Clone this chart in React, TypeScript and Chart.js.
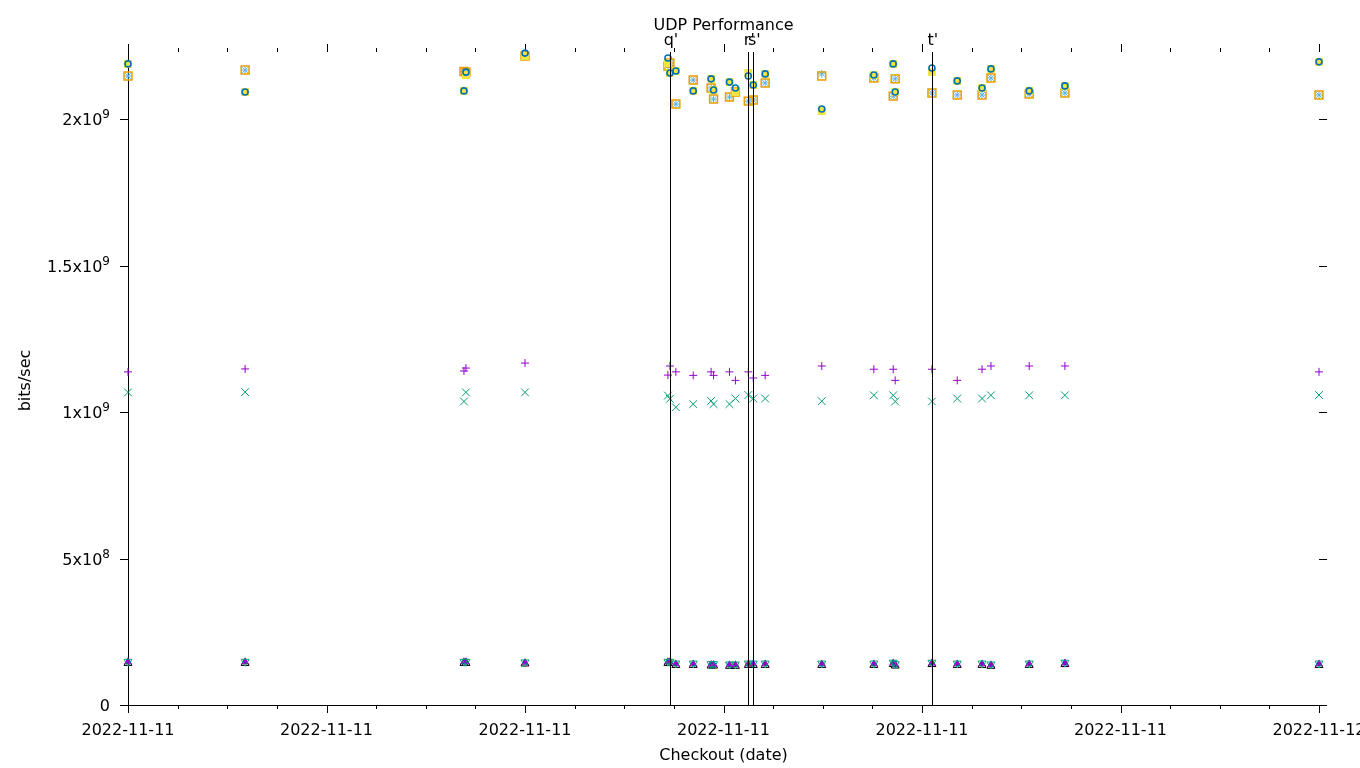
import React, { useEffect, useRef } from "react";
import { Chart, registerables } from "chart.js";
Chart.register(...registerables);

// Time of each run, in hours after 2022-11-11 00:00
const runHours = [0, 2.36, 6.77, 6.81, 8.0, 10.88, 10.92, 11.04, 11.39, 11.75, 11.8, 12.12, 12.24, 12.5, 12.6, 12.84, 13.98, 15.03, 15.42, 15.46, 16.2, 16.71, 17.21, 17.39, 18.16, 18.88, 24];

// series values (bits/sec)
const plusSeries = [1.137e9, 1.147e9, 1.14e9, 1.15e9, 1.167e9, 1.126e9, 1.157e9, 1.137e9, 1.125e9, 1.137e9, 1.125e9, 1.137e9, 1.108e9, 1.137e9, 1.116e9, 1.125e9, 1.157e9, 1.146e9, 1.146e9, 1.108e9, 1.146e9, 1.108e9, 1.146e9, 1.157e9, 1.157e9, 1.157e9, 1.137e9];
const crossSeries = [1.067e9, 1.068e9, 1.036e9, 1.067e9, 1.067e9, 1.056e9, 1.045e9, 1.016e9, 1.027e9, 1.038e9, 1.027e9, 1.027e9, 1.046e9, 1.058e9, 1.046e9, 1.046e9, 1.037e9, 1.057e9, 1.057e9, 1.036e9, 1.036e9, 1.046e9, 1.046e9, 1.057e9, 1.057e9, 1.057e9, 1.058e9];
const starSeries = [2.147e9, 2.167e9, 2.162e9, 2.16e9, 2.222e9, 2.181e9, 2.191e9, 2.051e9, 2.133e9, 2.106e9, 2.068e9, 2.075e9, 2.092e9, 2.061e9, 2.065e9, 2.123e9, 2.154e9, 2.14e9, 2.078e9, 2.137e9, 2.089e9, 2.082e9, 2.082e9, 2.14e9, 2.085e9, 2.089e9, 2.082e9];
const openSquareSeries = [2.147e9, 2.167e9, 2.162e9, 2.16e9, 2.215e9, 2.181e9, 2.191e9, 2.051e9, 2.133e9, 2.106e9, 2.068e9, 2.075e9, 2.092e9, 2.061e9, 2.065e9, 2.123e9, 2.147e9, 2.14e9, 2.078e9, 2.137e9, 2.089e9, 2.082e9, 2.082e9, 2.14e9, 2.085e9, 2.089e9, 2.082e9];
const filledSquareSeries = [2.188e9, 2.092e9, 2.096e9, 2.15e9, 2.215e9, 2.191e9, 2.157e9, 2.164e9, 2.096e9, 2.137e9, 2.099e9, 2.126e9, 2.092e9, 2.157e9, 2.116e9, 2.154e9, 2.027e9, 2.15e9, 2.188e9, 2.092e9, 2.16e9, 2.13e9, 2.106e9, 2.171e9, 2.096e9, 2.113e9, 2.195e9];
const circleSeries = [2.188e9, 2.092e9, 2.096e9, 2.16e9, 2.225e9, 2.208e9, 2.157e9, 2.164e9, 2.096e9, 2.137e9, 2.099e9, 2.126e9, 2.106e9, 2.147e9, 2.116e9, 2.154e9, 2.034e9, 2.15e9, 2.188e9, 2.092e9, 2.174e9, 2.13e9, 2.106e9, 2.171e9, 2.096e9, 2.113e9, 2.195e9];
const triangleSeries = [1.43e8, 1.43e8, 1.43e8, 1.43e8, 1.41e8, 1.43e8, 1.43e8, 1.36e8, 1.36e8, 1.34e8, 1.34e8, 1.33e8, 1.33e8, 1.36e8, 1.36e8, 1.36e8, 1.36e8, 1.36e8, 1.39e8, 1.34e8, 1.39e8, 1.36e8, 1.36e8, 1.33e8, 1.36e8, 1.39e8, 1.36e8];
const filledTriangleSeries = [1.47e8, 1.47e8, 1.47e8, 1.47e8, 1.45e8, 1.47e8, 1.47e8, 1.4e8, 1.4e8, 1.38e8, 1.38e8, 1.37e8, 1.37e8, 1.4e8, 1.4e8, 1.4e8, 1.4e8, 1.4e8, 1.43e8, 1.38e8, 1.43e8, 1.4e8, 1.4e8, 1.37e8, 1.4e8, 1.43e8, 1.4e8];
const invTriangleSeries = [1.48e8, 1.48e8, 1.48e8, 1.48e8, 1.46e8, 1.48e8, 1.48e8, 1.42e8, 1.42e8, 1.4e8, 1.4e8, 1.39e8, 1.39e8, 1.42e8, 1.42e8, 1.42e8, 1.42e8, 1.42e8, 1.45e8, 1.4e8, 1.45e8, 1.42e8, 1.42e8, 1.39e8, 1.42e8, 1.45e8, 1.42e8];

// axes
const xMin = 0;
const xMax = 24;
const yMin = 0;
const yMax = 2.2287e9;
const xMajorTicks = [0, 4, 8, 12, 16, 20, 24];
const xTickLabels = ["2022-11-11", "2022-11-11", "2022-11-11", "2022-11-11", "2022-11-11", "2022-11-11", "2022-11-12"];
const xMinorTicks = [1, 2, 3, 5, 6, 7, 9, 10, 11, 13, 14, 15, 17, 18, 19, 21, 22, 23];
const yTicks = [0, 5e8, 1e9, 1.5e9, 2e9];
const yTickMantissa = ["0", "5x10", "1x10", "1.5x10", "2x10"];
const yTickExponent = ["", "8", "9", "9", "9"];
const markerHours = [10.92, 12.5, 12.6, 16.2];
const markerLabels = ["q'", "r'", "s'", "t'"];

const title = "UDP Performance";
const xTitle = "Checkout (date)";
const yTitle = "bits/sec";

const FONT = "DejaVu Sans, sans-serif";

const pts = (vals: number[]) => vals.map((v, i) => ({ x: runHours[i], y: v }));

const none = "rgba(0,0,0,0)";

const axisPlugin = {
  id: "gnuplotAxes",
  beforeDatasetsDraw(chart: any) {
    const ctx = chart.ctx;
    const xs = chart.scales.x;
    const ys = chart.scales.y;
    const left = Math.round(xs.getPixelForValue(xMin));
    const right = Math.round(xs.getPixelForValue(xMax));
    const top = Math.round(ys.getPixelForValue(yMax));
    const bottom = Math.round(ys.getPixelForValue(yMin));
    ctx.save();
    ctx.strokeStyle = "#000";
    ctx.lineWidth = 1;
    ctx.beginPath();
    // left border
    ctx.moveTo(left + 0.5, top);
    ctx.lineTo(left + 0.5, bottom + 1);
    // bottom border
    ctx.moveTo(left, bottom + 0.5);
    ctx.lineTo(right + 1, bottom + 0.5);
    // y ticks (outward left and right mirror)
    yTicks.forEach((v) => {
      const py = Math.round(ys.getPixelForValue(v)) + 0.5;
      ctx.moveTo(left - 8, py);
      ctx.lineTo(left + 1, py);
      ctx.moveTo(right, py);
      ctx.lineTo(right + 8, py);
    });
    // x ticks bottom and top
    xMajorTicks.forEach((v) => {
      const px = Math.round(xs.getPixelForValue(v)) + 0.5;
      ctx.moveTo(px, bottom);
      ctx.lineTo(px, bottom + 8);
      ctx.moveTo(px, top);
      ctx.lineTo(px, top - 8);
    });
    xMinorTicks.forEach((v) => {
      const px = Math.round(xs.getPixelForValue(v)) + 0.5;
      ctx.moveTo(px, bottom);
      ctx.lineTo(px, bottom + 4);
      ctx.moveTo(px, top);
      ctx.lineTo(px, top - 4);
    });
    ctx.stroke();

    // tick labels
    ctx.fillStyle = "#000";
    ctx.font = `16px ${FONT}`;
    ctx.textAlign = "center";
    ctx.textBaseline = "alphabetic";
    xMajorTicks.forEach((v, i) => {
      ctx.fillText(xTickLabels[i], xs.getPixelForValue(v), bottom + 30);
    });
    yTicks.forEach((v, i) => {
      const py = ys.getPixelForValue(v);
      const expText = yTickExponent[i];
      ctx.font = `12px ${FONT}`;
      const ew = expText ? ctx.measureText(expText).width : 0;
      const xr = left - 18;
      if (expText) {
        ctx.textAlign = "right";
        ctx.fillText(expText, xr, py - 1);
      }
      ctx.font = `16px ${FONT}`;
      ctx.textAlign = "right";
      ctx.fillText(yTickMantissa[i], xr - ew, py + 6);
    });

    // titles
    ctx.font = `16px ${FONT}`;
    ctx.textAlign = "center";
    ctx.fillText(title, (left + right) / 2, 30);
    ctx.fillText(xTitle, (left + right) / 2, 760);
    ctx.save();
    ctx.translate(30, (top + bottom) / 2 + 2);
    ctx.rotate(-Math.PI / 2);
    ctx.fillText(yTitle, 0, 0);
    ctx.restore();
    ctx.restore();
  },
  afterDatasetsDraw(chart: any) {
    const ctx = chart.ctx;
    const xs = chart.scales.x;
    const ys = chart.scales.y;
    const top = Math.round(ys.getPixelForValue(yMax));
    const bottom = Math.round(ys.getPixelForValue(yMin));
    ctx.save();
    ctx.strokeStyle = "#000";
    ctx.lineWidth = 1;
    ctx.beginPath();
    markerHours.forEach((h) => {
      const px = Math.round(xs.getPixelForValue(h)) + 0.5;
      ctx.moveTo(px, top);
      ctx.lineTo(px, bottom);
    });
    ctx.stroke();
    ctx.fillStyle = "#000";
    ctx.font = `16px ${FONT}`;
    ctx.textAlign = "center";
    ctx.textBaseline = "alphabetic";
    markerHours.forEach((h, i) => {
      ctx.fillText(markerLabels[i], xs.getPixelForValue(h) + 1, 45);
    });
    ctx.restore();
  },
};

export default function App() {
  const ref = useRef<HTMLCanvasElement | null>(null);
  useEffect(() => {
    if (!ref.current) return;
    const base = { showLine: false, clip: false as any };
    const chart = new Chart(ref.current, {
      type: "scatter",
      data: {
        datasets: [
          { ...base, label: "1", order: 19, data: pts(plusSeries), pointStyle: "cross", pointRadius: 4, borderWidth: 1, borderColor: "rgb(148,0,211)", backgroundColor: none },
          { ...base, label: "2", order: 18, data: pts(crossSeries), pointStyle: "crossRot", pointRadius: 5.5, borderWidth: 1, borderColor: "rgb(0,158,115)", backgroundColor: none },
          { ...base, label: "3", order: 17, data: pts(starSeries), pointStyle: "star", pointRadius: 4, borderWidth: 1, borderColor: "rgb(86,180,233)", backgroundColor: none },
          { ...base, label: "4", order: 16, data: pts(openSquareSeries), pointStyle: "rect", pointRadius: 5.6, borderWidth: 1.5, borderColor: "rgb(230,159,0)", backgroundColor: none },
          { ...base, label: "5", order: 15, data: pts(filledSquareSeries), pointStyle: "rect", pointRadius: 5.6, borderWidth: 0, borderColor: "rgb(240,228,66)", backgroundColor: "rgb(240,228,66)" },
          { ...base, label: "6", order: 14, data: pts(circleSeries), pointStyle: "circle", pointRadius: 3, borderWidth: 1.6, borderColor: "rgb(0,114,178)", backgroundColor: none },
          { ...base, label: "8", order: 12, data: pts(triangleSeries), pointStyle: "triangle", pointRadius: 4.6, borderWidth: 1, borderColor: "rgb(0,0,0)", backgroundColor: none },
          { ...base, label: "9", order: 11, data: pts(filledTriangleSeries), pointStyle: "triangle", pointRadius: 4.6, borderWidth: 0, borderColor: "rgb(148,0,211)", backgroundColor: "rgb(148,0,211)" },
          { ...base, label: "10", order: 10, data: pts(invTriangleSeries), pointStyle: "triangle", rotation: 180, pointRotation: 180, pointRadius: 4.6, borderWidth: 1, borderColor: "rgb(0,158,115)", backgroundColor: none } as any,
        ],
      },
      options: {
        animation: false,
        responsive: false,
        devicePixelRatio: 1,
        layout: { padding: { left: 128, right: 41, top: 52, bottom: 63 } },
        plugins: { legend: { display: false }, tooltip: { enabled: false }, title: { display: false } },
        events: [],
        scales: {
          x: { type: "linear", min: xMin, max: xMax, display: false },
          y: { type: "linear", min: yMin, max: yMax, display: false },
        },
      },
      plugins: [axisPlugin],
    });
    return () => chart.destroy();
  }, []);
  return (
    <div style={{ position: "absolute", left: 0, top: 0, width: 1360, height: 768, background: "#fff" }}>
      <canvas ref={ref} width={1360} height={768} style={{ width: 1360, height: 768, display: "block" }} />
    </div>
  );
}
